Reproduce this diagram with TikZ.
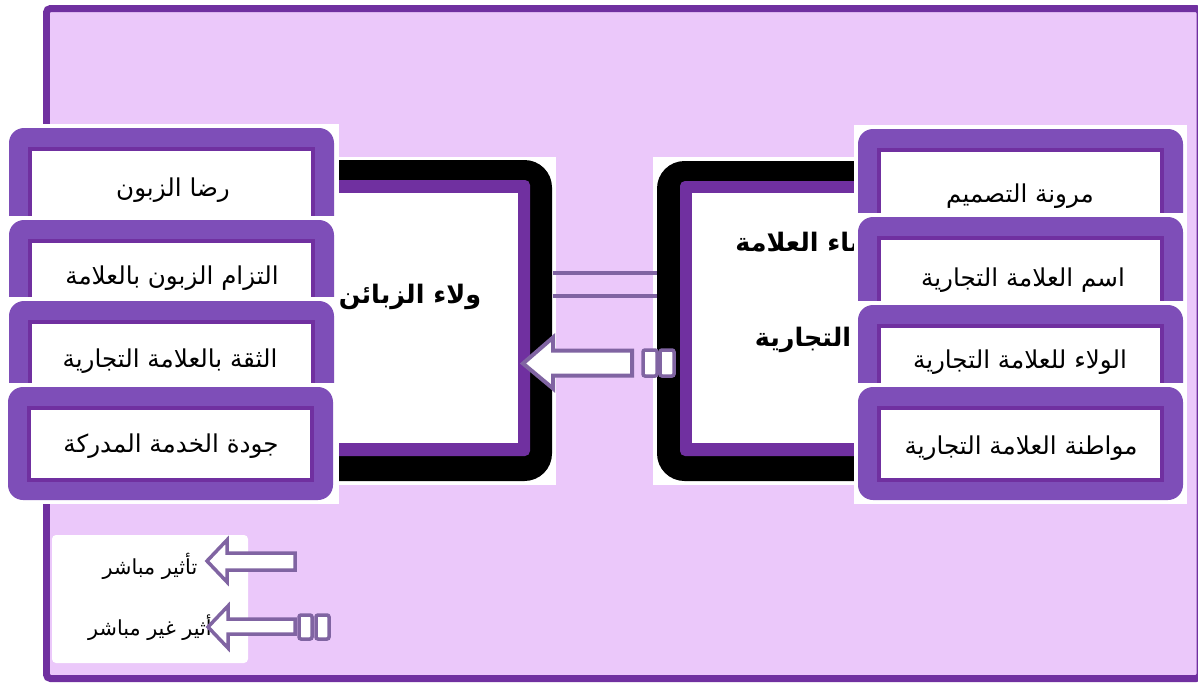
\documentclass[tikz,border=0pt]{standalone}
\usepackage{fontspec}
\TeXXeTstate=1
\newfontfamily\arfont[Script=Arabic]{DejaVu Sans}
\definecolor{lav}{HTML}{EBC8FA}
\definecolor{framep}{HTML}{7030A0}
\definecolor{boxlight}{HTML}{7E4EB8}
\definecolor{boxdark}{HTML}{7030A0}
\definecolor{arrowc}{HTML}{8064A2}
\tikzset{
  feattext/.style={font=\arfont\fontsize{14}{16}\selectfont, inner sep=0pt},
  headtext/.style={font=\arfont\bfseries\fontsize{14.5}{17}\selectfont, inner sep=0pt},
  legtext/.style={font=\arfont\fontsize{11.8}{13}\selectfont, inner sep=0pt},
  blockarrow/.style={draw=arrowc, fill=white, line width=0.08cm, line join=miter},
  stripe/.style={draw=arrowc, fill=white, line width=0.07cm, rounded corners=0.04cm},
  relline/.style={draw=arrowc, line width=0.08cm},
}
\newcommand{\featbox}[4]{%
  \fill[white] (#3,#2-4) rectangle (#4,#2+117);
  \fill[boxlight, rounded corners=0.3cm] (#1,#2) rectangle (#1+325,#2+113);
  \draw[boxdark, line width=0.08cm, fill=white] (#1+21,#2+21) rectangle (#1+304,#2+93);
}
\begin{document}
\begin{tikzpicture}[x=0.02cm,y=-0.02cm]
\useasboundingbox (0,0) rectangle (1198,684);
\fill[white] (0,0) rectangle (1198,684);
\begin{scope}
\clip (0,0) rectangle (1198,684);
% outer frame
\draw[framep, fill=lav, line width=0.14cm, rounded corners=0.08cm] (46.5,8.5) rectangle (1200,678.5);

% central left box
\fill[white] (266,157) rectangle (556,485);
\fill[black, rounded corners=0.55cm] (270,160) rectangle (552,481);
\fill[framep, rounded corners=0.1cm] (282,180) rectangle (530,456);
\fill[white] (294,193) rectangle (518,443);
\node[headtext] (clt) at (410,297) {\beginR ولاء الزبائن\endR};

% central right box
\fill[white] (653,157) rectangle (943,485);
\fill[black, rounded corners=0.55cm] (657,161) rectangle (939,481);
\fill[framep, rounded corners=0.1cm] (680,181) rectangle (927,456);
\fill[white] (692,193) rectangle (915,443);
\node[headtext, anchor=west] (crt1) at (735,244) {\beginR بناء العلامة\endR};
\node[headtext] (crt2) at (803,340) {\beginR التجارية\endR};

% connectors between central boxes
\coordinate (clE1) at (553,273); \coordinate (crW1) at (657,273);
\coordinate (clE2) at (553,296); \coordinate (crW2) at (657,296);
\draw[relline] (clE1) -- (crW1);
\draw[relline] (clE2) -- (crW2);

% indirect effect arrow (right -> left)
\coordinate (tipA) at (523,363.5);
\draw[blockarrow] (tipA) -- ++(30,-26) -- ++(0,13) -- ++(79,0) -- ++(0,25) -- ++(-79,0) -- ++(0,13) -- cycle;
\draw[stripe] (643,350) rectangle (657,376);
\draw[stripe] (660,350) rectangle (674,376);

% left feature boxes
\featbox{9}{128}{0}{339}
\node[feattext] (l1) at (173,190) {\beginR رضا الزبون\endR};
\featbox{9}{220}{0}{339}
\node[feattext] (l2) at (172,278) {\beginR التزام الزبون بالعلامة\endR};
\featbox{9}{301}{0}{339}
\node[feattext] (l3) at (170,361) {\beginR الثقة بالعلامة التجارية\endR};
\featbox{8}{387}{0}{339}
\node[feattext] (l4) at (171,446) {\beginR جودة الخدمة المدركة\endR};

% right feature boxes
\featbox{858}{129}{854}{1187}
\node[feattext] (r1) at (1020,196) {\beginR مرونة التصميم\endR};
\featbox{858}{217}{854}{1187}
\node[feattext] (r2) at (1023,280) {\beginR اسم العلامة التجارية\endR};
\featbox{858}{305}{854}{1187}
\node[feattext] (r3) at (1020,362) {\beginR الولاء للعلامة التجارية\endR};
\featbox{858}{387}{854}{1187}
\node[feattext] (r4) at (1021,448) {\beginR مواطنة العلامة التجارية\endR};

% legend
\fill[white, rounded corners=0.08cm] (52,535) rectangle (248,663);
\node[legtext] (lg1) at (150,566) {\beginR تأثير مباشر\endR};
\node[legtext, anchor=east] (lg2) at (212,628) {\beginR أثير غير مباشر\endR};
\coordinate (tipL1) at (207,561);
\draw[blockarrow, line width=0.07cm] (tipL1) -- ++(20,-21) -- ++(0,13) -- ++(68,0) -- ++(0,17) -- ++(-68,0) -- ++(0,12) -- cycle;
\coordinate (tipL2) at (208,627);
\draw[blockarrow, line width=0.07cm] (tipL2) -- ++(20,-21) -- ++(0,13) -- ++(67,0) -- ++(0,15) -- ++(-67,0) -- ++(0,14) -- cycle;
\draw[stripe] (299,615) rectangle (312,639);
\draw[stripe] (316,615) rectangle (329,639);
\end{scope}
\end{tikzpicture}
\end{document}
